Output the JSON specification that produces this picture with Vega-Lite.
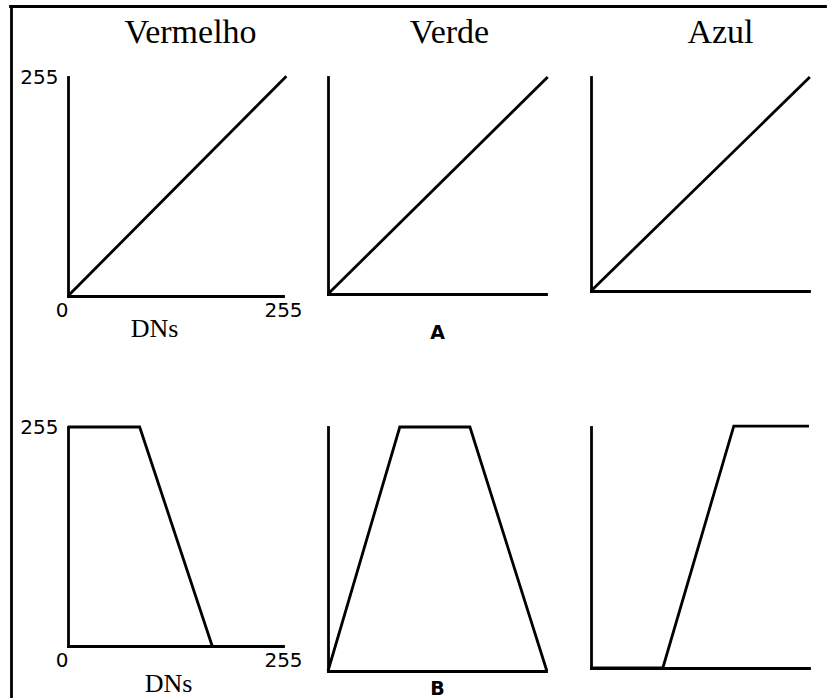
{
  "$schema": "https://vega.github.io/schema/vega-lite/v6.json",
  "padding": {"left": 11, "top": 6, "right": 0, "bottom": 0},
  "background": "white",
  "config": {
    "font": "DejaVu Sans",
    "view": {"stroke": null},
    "axis": {
      "grid": false,
      "ticks": false,
      "domainColor": "black",
      "domainWidth": 2.8,
      "domainCap": "square",
      "labelFont": "DejaVu Sans",
      "labelFontSize": 20,
      "labelColor": "black",
      "labelFlush": false,
      "labelOverlap": false,
      "labelBound": false,
      "titleColor": "black"
    }
  },
  "data": {
    "values": [
      {"painel": "A-Vermelho", "x": 0, "y": 0},
      {"painel": "A-Vermelho", "x": 259, "y": 256},
      {"painel": "A-Verde", "x": 0, "y": 0},
      {"painel": "A-Verde", "x": 257, "y": 255},
      {"painel": "A-Azul", "x": 0, "y": 0},
      {"painel": "A-Azul", "x": 256, "y": 255},
      {"painel": "B-Vermelho", "x": 0, "y": 255},
      {"painel": "B-Vermelho", "x": 85, "y": 255},
      {"painel": "B-Vermelho", "x": 171, "y": 0},
      {"painel": "B-Verde", "x": 0, "y": 0},
      {"painel": "B-Verde", "x": 84, "y": 255},
      {"painel": "B-Verde", "x": 166, "y": 255},
      {"painel": "B-Verde", "x": 256, "y": 0},
      {"painel": "B-Azul", "x": 0, "y": 0},
      {"painel": "B-Azul", "x": 84, "y": 0},
      {"painel": "B-Azul", "x": 167, "y": 256},
      {"painel": "B-Azul", "x": 255, "y": 256}
    ]
  },
  "bounds": "flush",
  "columns": 3,
  "spacing": {"row": 131, "column": 45},
  "concat": [
    {
      "width": 215, "height": 219,
      "layer": [
        {
          "transform": [{"filter": "datum.painel == 'A-Vermelho'"}],
          "mark": {"type": "line", "color": "black", "strokeWidth": 2.8, "clip": false},
          "encoding": {
            "x": {"field": "x", "type": "quantitative", "scale": {"domain": [0, 255], "nice": false},
              "axis": {"values": [0, 255], "format": "d", "labelAlign": {"condition": {"test": "datum.value == 0", "value": "right"}, "value": "center"}, "labelPadding": 4,
                "title": "DNs", "titleFont": "Liberation Serif", "titleFontSize": 26, "titleFontWeight": "normal", "titleX": 86, "titleY": 40, "titleBaseline": "alphabetic", "titleAlign": "center"}},
            "y": {"field": "y", "type": "quantitative", "scale": {"domain": [0, 255], "nice": false},
              "axis": {"values": [255], "format": "d", "labelAlign": "right", "labelBaseline": "middle", "labelPadding": 10, "title": null}}
          }
        },
        {
          "data": {"values": []},
          "mark": {"type": "rule", "color": "black"},
          "encoding": {
            "x": {"field": "bx", "type": "quantitative", "scale": {"domain": [0, 1], "range": [-58, 757], "nice": false, "zero": false},
              "axis": {"orient": "top", "offset": 71, "labels": false, "title": "Vermelho", "titleX": 122, "titleY": 36, "titleBaseline": "alphabetic", "titleAlign": "center", "titleFont": "Liberation Serif", "titleFontSize": 34, "titleFontWeight": "normal"}},
            "y": {"field": "by", "type": "quantitative", "scale": {"domain": [0, 1], "range": [623, -71], "nice": false, "zero": false},
              "axis": {"orient": "left", "offset": 57, "labels": false, "title": null}}
          }
        }
      ],
      "resolve": {"scale": {"x": "independent", "y": "independent"}, "axis": {"x": "independent", "y": "independent"}}
    },
    {
      "width": 218, "height": 217,
      "transform": [{"filter": "datum.painel == 'A-Verde'"}],
      "layer": [
        {
          "mark": {"type": "line", "color": "black", "strokeWidth": 2.8, "clip": false},
          "encoding": {
            "x": {"field": "x", "type": "quantitative", "scale": {"domain": [0, 255], "nice": false},
              "axis": {"labels": false, "title": "A", "titleFont": "DejaVu Sans", "titleFontSize": 19, "titleFontWeight": "bold", "titleX": 109, "titleY": 44, "titleBaseline": "alphabetic", "titleAlign": "center"}},
            "y": {"field": "y", "type": "quantitative", "scale": {"domain": [0, 255], "nice": false},
              "axis": {"labels": false, "title": null}}
          }
        },
        {
          "mark": {"type": "line", "opacity": 0},
          "encoding": {
            "x": {"field": "x", "type": "quantitative", "scale": {"domain": [0, 255], "nice": false},
              "axis": {"orient": "top", "domain": false, "labels": false, "title": "Verde", "titleX": 121, "titleY": -35, "titleBaseline": "alphabetic", "titleAlign": "center", "titleFont": "Liberation Serif", "titleFontSize": 34, "titleFontWeight": "normal"}},
            "y": {"field": "y", "type": "quantitative", "scale": {"domain": [0, 255], "nice": false}, "axis": null}
          }
        }
      ],
      "resolve": {"axis": {"x": "independent", "y": "independent"}}
    },
    {
      "width": 218, "height": 214,
      "transform": [{"filter": "datum.painel == 'A-Azul'"}],
      "layer": [
        {
          "mark": {"type": "line", "color": "black", "strokeWidth": 2.8, "clip": false},
          "encoding": {
            "x": {"field": "x", "type": "quantitative", "scale": {"domain": [0, 255], "nice": false},
              "axis": {"labels": false, "title": null}},
            "y": {"field": "y", "type": "quantitative", "scale": {"domain": [0, 255], "nice": false},
              "axis": {"labels": false, "title": null}}
          }
        },
        {
          "mark": {"type": "line", "opacity": 0},
          "encoding": {
            "x": {"field": "x", "type": "quantitative", "scale": {"domain": [0, 255], "nice": false},
              "axis": {"orient": "top", "domain": false, "labels": false, "title": "Azul", "titleX": 129, "titleY": -35, "titleBaseline": "alphabetic", "titleAlign": "center", "titleFont": "Liberation Serif", "titleFontSize": 34, "titleFontWeight": "normal"}},
            "y": {"field": "y", "type": "quantitative", "scale": {"domain": [0, 255], "nice": false}, "axis": null}
          }
        }
      ],
      "resolve": {"axis": {"x": "independent", "y": "independent"}}
    },
    {
      "width": 215, "height": 219,
      "transform": [{"filter": "datum.painel == 'B-Vermelho'"}],
      "mark": {"type": "line", "color": "black", "strokeWidth": 2.8, "clip": false},
      "encoding": {
        "x": {"field": "x", "type": "quantitative", "scale": {"domain": [0, 255], "nice": false},
          "axis": {"values": [0, 255], "format": "d", "labelAlign": {"condition": {"test": "datum.value == 0", "value": "right"}, "value": "center"}, "labelPadding": 4,
            "title": "DNs", "titleFont": "Liberation Serif", "titleFontSize": 26, "titleFontWeight": "normal", "titleX": 100, "titleY": 45, "titleBaseline": "alphabetic", "titleAlign": "center"}},
        "y": {"field": "y", "type": "quantitative", "scale": {"domain": [0, 255], "nice": false},
          "axis": {"values": [255], "format": "d", "labelAlign": "right", "labelBaseline": "middle", "labelPadding": 10, "title": null}}
      }
    },
    {
      "width": 218, "height": 244,
      "transform": [{"filter": "datum.painel == 'B-Verde'"}],
      "mark": {"type": "line", "color": "black", "strokeWidth": 2.8, "clip": false},
      "encoding": {
        "x": {"field": "x", "type": "quantitative", "scale": {"domain": [0, 255], "nice": false},
          "axis": {"labels": false, "title": "B", "titleFont": "DejaVu Sans", "titleFontSize": 19, "titleFontWeight": "bold", "titleX": 109, "titleY": 23, "titleBaseline": "alphabetic", "titleAlign": "center"}},
        "y": {"field": "y", "type": "quantitative", "scale": {"domain": [0, 255], "nice": false},
          "axis": {"labels": false, "title": null}}
      }
    },
    {
      "width": 218, "height": 241,
      "transform": [{"filter": "datum.painel == 'B-Azul'"}],
      "mark": {"type": "line", "color": "black", "strokeWidth": 2.8, "clip": false},
      "encoding": {
        "x": {"field": "x", "type": "quantitative", "scale": {"domain": [0, 255], "nice": false},
          "axis": {"labels": false, "title": null}},
        "y": {"field": "y", "type": "quantitative", "scale": {"domain": [0, 255], "nice": false},
          "axis": {"labels": false, "title": null}}
      }
    }
  ]
}
